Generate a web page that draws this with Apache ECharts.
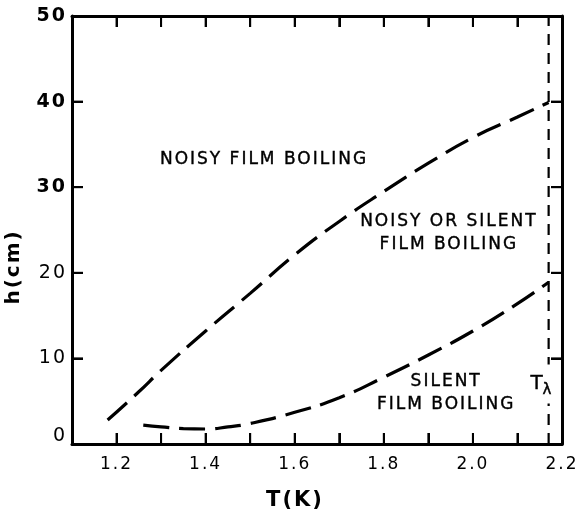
<!DOCTYPE html>
<html>
<head>
<meta charset="utf-8">
<script src="https://cdn.jsdelivr.net/npm/echarts@6/dist/echarts.min.js"></script>
<style>
  html, body { margin: 0; padding: 0; background: #fff; }
  #chart { width: 582px; height: 515px; }
</style>
</head>
<body>
<div id="chart"></div>
<script>
// Upper boundary: noisy film boiling above, noisy-or-silent below
const noisyT = [1.18, 1.25, 1.30, 1.40, 1.50, 1.60, 1.70, 1.80, 1.90, 2.00, 2.10, 2.17];
const noisyH = [2.8, 6.1, 8.6, 13.2, 17.6, 22.1, 26.0, 29.5, 32.8, 35.8, 38.2, 39.9];

// Lower boundary: silent film boiling below
const silentT = [1.26, 1.30, 1.35, 1.40, 1.45, 1.50, 1.60, 1.70, 1.80, 1.90, 2.00, 2.10, 2.17];
const silentH = [2.2, 2.0, 1.8, 1.75, 2.0, 2.4, 3.7, 5.4, 7.8, 10.4, 13.2, 16.4, 18.9];

// Lambda point
const lambdaT = 2.17;

// Axis ranges, tick positions and labelled ticks
const tRange = [1.1, 2.2];
const hRange = [0, 50];
const tTicks = [1.2, 1.3, 1.4, 1.5, 1.6, 1.7, 1.8, 1.9, 2.0, 2.1];
const hTicks = [10, 20, 30, 40];
const tLabels = [1.2, 1.4, 1.6, 1.8, 2.0, 2.2];
const hLabelsBold = [30, 40, 50];

// Region names, placed in data coordinates
const regionT = [1.531, 1.946, 1.940];
const regionH = [33.2, 24.6, 5.9];
const regionText = ['NOISY FILM BOILING', 'NOISY OR SILENT\nFILM BOILING', 'SILENT\nFILM BOILING'];
const lambdaLabelT = 2.155;
const lambdaLabelH = 7.0;

const FONT = 'DejaVu Sans';
const INK = '#000';
const TICK_LEN = 11;

function pairs(xs, ys) { return xs.map((x, i) => [x, ys[i]]); }
function frame() { return { show: true, onZero: false, lineStyle: { color: INK, width: 3 } }; }
function ticks() { return { show: true, inside: true, length: TICK_LEN, lineStyle: { color: INK, width: 2 } }; }

// Inward tick marks drawn as a series; dir is the screen direction of the mark
function tickSeries(data, dir) {
  return {
    type: 'custom', data: data, silent: true, clip: false, z: 4,
    encode: { x: 0, y: 1 },
    renderItem: (params, api) => {
      const p = api.coord([api.value(0), api.value(1)]);
      return {
        type: 'line',
        shape: { x1: p[0], y1: p[1], x2: p[0] + dir[0] * TICK_LEN, y2: p[1] + dir[1] * TICK_LEN },
        style: { stroke: INK, lineWidth: 2 }
      };
    }
  };
}

const option = {
  animation: false,
  backgroundColor: '#fff',
  grid: { left: 72, right: 20, top: 16, bottom: 71, containLabel: false, outerBoundsMode: 'none' },
  xAxis: [
    {
      type: 'value', position: 'bottom',
      min: tRange[0], max: tRange[1], interval: 0.1,
      axisLine: frame(), axisTick: ticks(), splitLine: { show: false },
      axisLabel: {
        show: true, margin: 12, color: INK, fontFamily: FONT, fontSize: 17,
        formatter: v => tLabels.some(t => Math.abs(t - v) < 1e-6) ? v.toFixed(1) : ''
      },
      name: 'T(K)', nameLocation: 'middle', nameGap: 46,
      nameTextStyle: { color: INK, fontFamily: FONT, fontSize: 21, fontWeight: 'bold', padding: [0, 44, 0, 0] }
    },
    {
      type: 'value', position: 'top',
      min: tRange[0], max: tRange[1], interval: 0.1,
      axisLine: frame(), axisTick: ticks(), splitLine: { show: false },
      axisLabel: { show: false }
    }
  ],
  yAxis: [
    {
      type: 'value', position: 'left',
      min: hRange[0], max: hRange[1], interval: 10,
      axisLine: frame(), axisTick: ticks(), splitLine: { show: false },
      axisLabel: {
        show: true, margin: 5, color: INK,
        formatter: v => v === 0 ? '{z|0}' : (hLabelsBold.includes(v) ? '{b|' + v + '}' : '{n|' + v + '}'),
        rich: {
          b: { fontFamily: FONT, fontSize: 19, fontWeight: 'bold', color: INK },
          n: { fontFamily: FONT, fontSize: 19, color: INK },
          z: { fontFamily: FONT, fontSize: 19, color: INK, padding: [0, 0, 16, 0] }
        }
      },
      name: 'h(cm)', nameLocation: 'middle', nameGap: 48,
      nameTextStyle: { color: INK, fontFamily: FONT, fontSize: 20, fontWeight: 'bold', padding: [0, 74, 0, 0] }
    },
    {
      type: 'value', position: 'right',
      min: hRange[0], max: hRange[1], interval: 10,
      axisLine: frame(), axisTick: ticks(), splitLine: { show: false },
      axisLabel: { show: false }
    }
  ],
  series: [
    tickSeries(tTicks.map(t => [t, hRange[0]]), [0, -1]),
    tickSeries(tTicks.map(t => [t, hRange[1]]), [0, 1]),
    tickSeries(hTicks.map(h => [tRange[0], h]), [1, 0]),
    tickSeries(hTicks.map(h => [tRange[1], h]), [-1, 0]),
    {
      type: 'line', name: 'noisy', data: pairs(noisyT, noisyH),
      smooth: true, showSymbol: false, silent: true,
      lineStyle: { color: INK, width: 3.2, type: [26, 10], cap: 'butt' }, z: 3
    },
    {
      type: 'line', name: 'silent', data: pairs(silentT, silentH),
      smooth: true, showSymbol: false, silent: true,
      lineStyle: { color: INK, width: 3.2, type: [26, 10], cap: 'butt' }, z: 3
    },
    {
      type: 'line', name: 'lambda', data: [[lambdaT, hRange[0]], [lambdaT, hRange[1]]],
      showSymbol: false, silent: true,
      lineStyle: { color: INK, width: 2.2, type: [11, 8] }, z: 2
    },
    {
      type: 'scatter', name: 'regions', symbolSize: 0, silent: true, z: 5,
      itemStyle: { opacity: 1 },
      data: regionT.map((t, i) => ({ value: [t, regionH[i]], name: regionText[i] })),
      label: {
        show: true, position: 'inside', formatter: p => p.name,
        color: INK, fontFamily: FONT, fontSize: 17, lineHeight: 23, align: 'center',
        textBorderColor: INK, textBorderWidth: 0.4
      }
    },
    {
      type: 'scatter', name: 'lambdaLabel', symbolSize: 0, silent: true, z: 6,
      itemStyle: { opacity: 1 },
      data: [{ value: [lambdaLabelT, lambdaLabelH], name: 'T' }],
      label: {
        show: true, position: 'inside', formatter: '{t|T}{s|λ}',
        backgroundColor: '#fff', padding: [6, 2, 6, 2],
        rich: {
          t: { fontFamily: FONT, fontSize: 20, color: INK, textBorderColor: INK, textBorderWidth: 0.4 },
          s: { fontFamily: FONT, fontSize: 15, color: INK, padding: [12, 0, 0, 0], textBorderColor: INK, textBorderWidth: 0.4 }
        }
      }
    }
  ]
};

const el = document.getElementById('chart');
const chart = echarts.init(el, null, { renderer: 'canvas' });
chart.setOption(option);

// Hand-lettered look: wider letter spacing for all text, then redraw
el.querySelectorAll('canvas').forEach(c => {
  const ctx = c.getContext('2d');
  if (ctx && 'letterSpacing' in ctx) ctx.letterSpacing = '2px';
});
chart.clear();
chart.setOption(option);
</script>
</body>
</html>
